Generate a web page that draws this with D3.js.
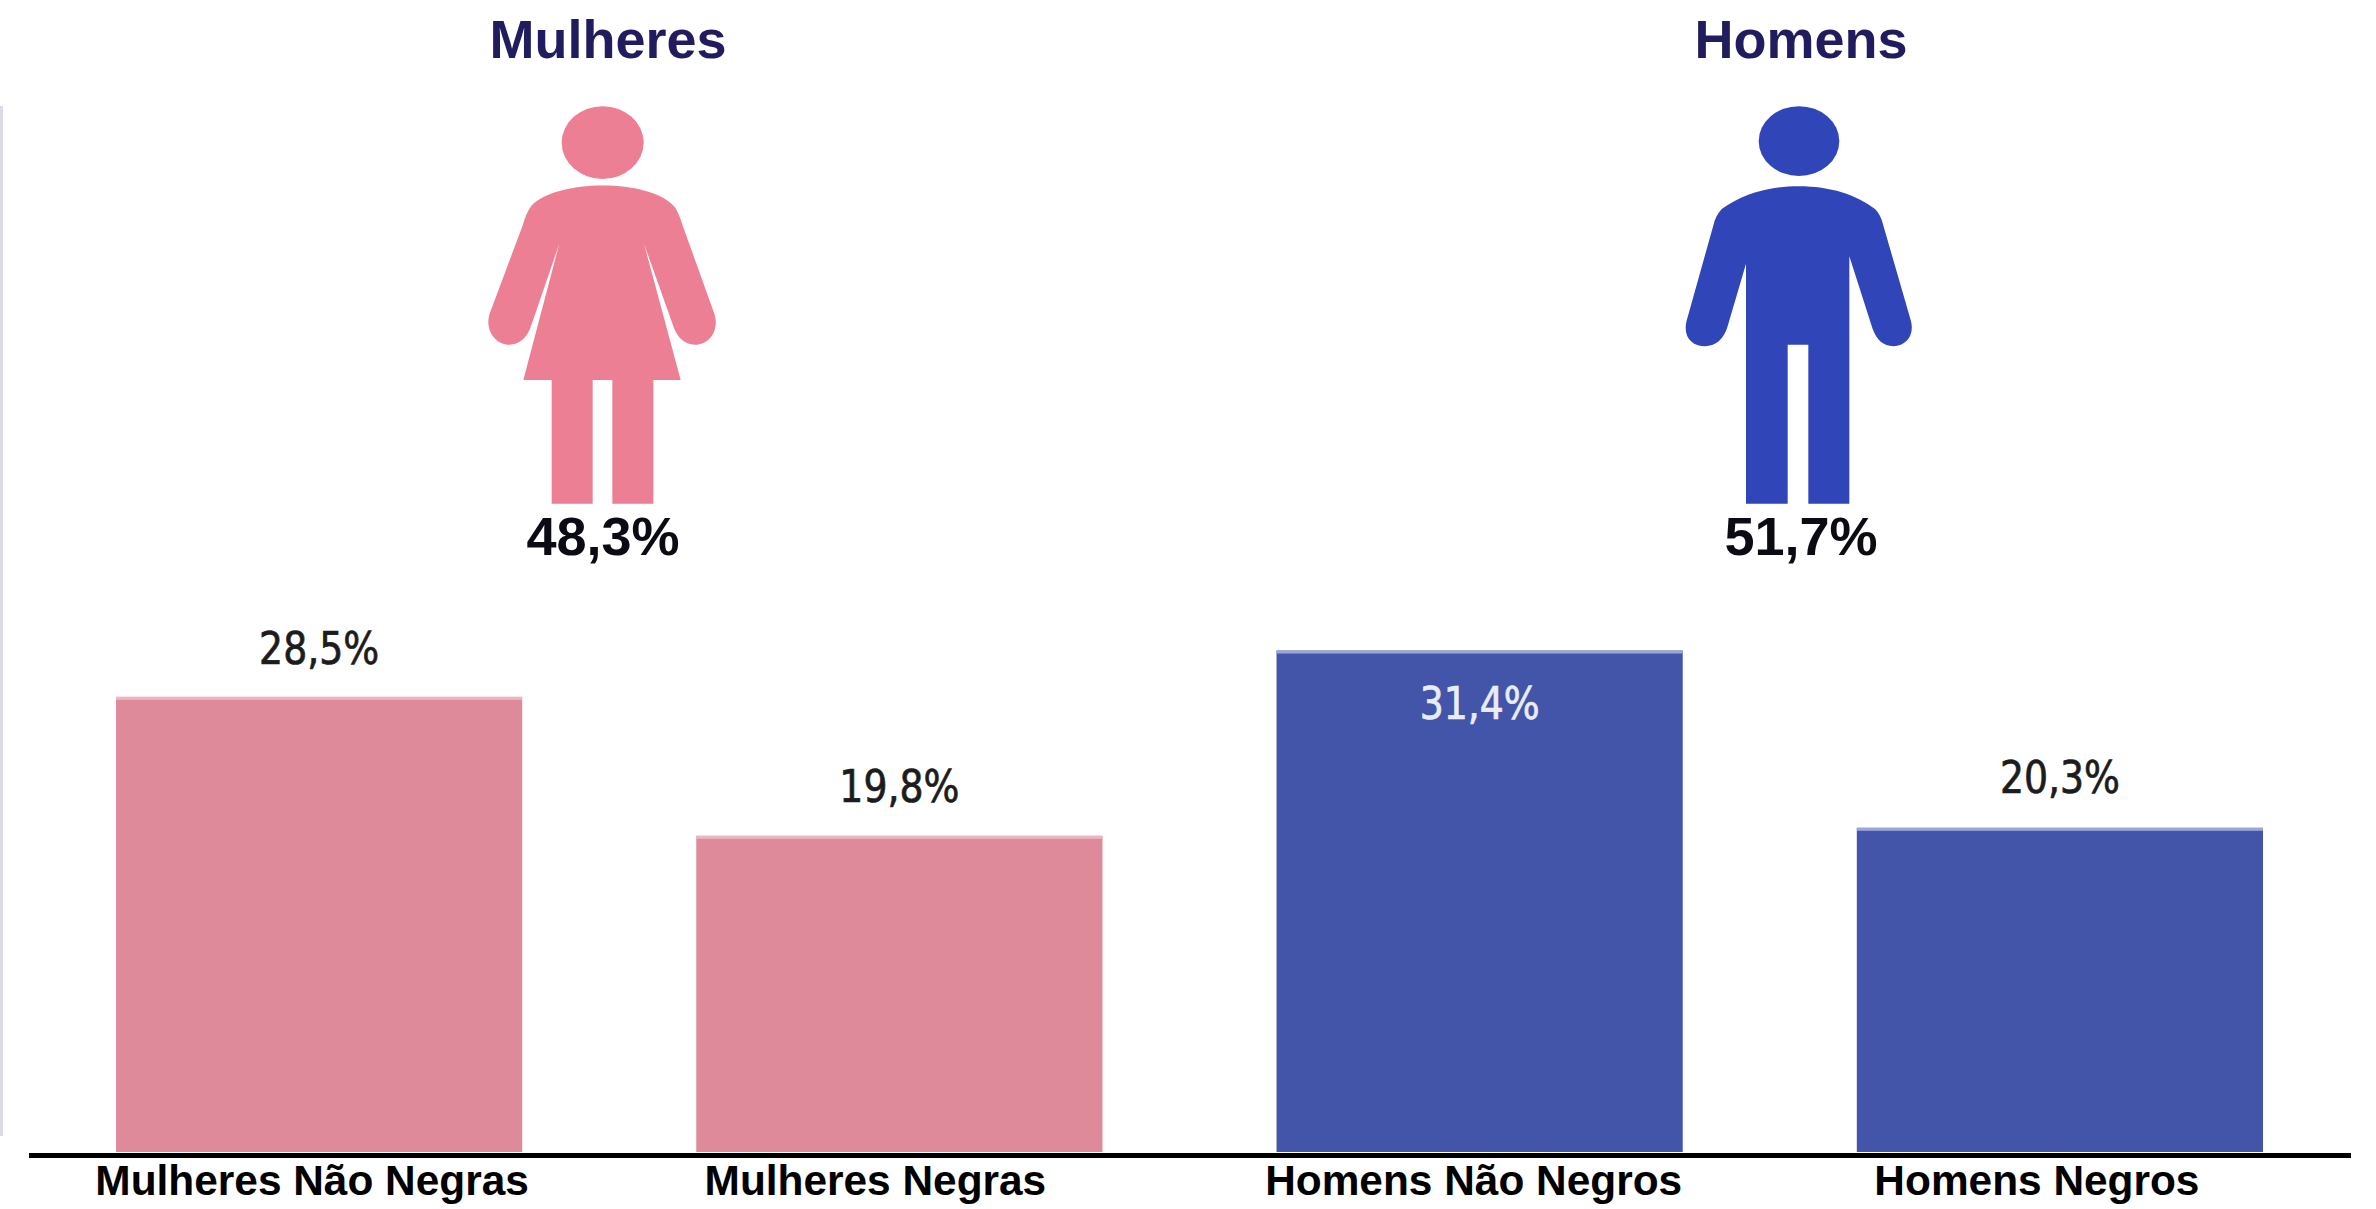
<!DOCTYPE html>
<html lang="pt">
<head>
<meta charset="utf-8">
<script src="https://cdn.jsdelivr.net/npm/d3@7"></script>
<style>
html,body{margin:0;padding:0;background:#fff;overflow:hidden}
svg{display:block}
</style>
</head>
<body>
<svg id="chart" width="2376" height="1209"></svg>
<script>
// --- data ---
const categories = ["Mulheres Não Negras", "Mulheres Negras", "Homens Não Negros", "Homens Negros"];
const values = [28.5, 19.8, 31.4, 20.3];
const genderNames = ["Mulheres", "Homens"];
const genderValues = [48.3, 51.7];

// --- styles and layout ---
const barColors = ["#DE8A9A", "#DE8A9A", "#4255A8", "#4255A8"];
const barEdgeColors = ["#EBB6C1", "#EBB6C1", "#9AA6D8", "#9AA6D8"];
const labelColors = ["#1c1c1c", "#1c1c1c", "#E9ECF6", "#1c1c1c"];
const labelOffsets = [-33, -34, 68, -35];
const tickShifts = [-7, -24, -6, -23];
const iconColors = ["#EC7F94", "#3046B8"];
const sansFont = "'Liberation Sans', Arial, sans-serif";
const valueFont = "'DejaVu Sans Condensed', 'DejaVu Sans', sans-serif";
const pct = v => d3.format(".1f")(v).replace(".", ",") + "%";

const svg = d3.select("#chart");
const baseY = 1152;

const x = d3.scaleBand().domain(categories).range([116, 2263]).paddingInner(0.3).paddingOuter(0);
const y = d3.scaleLinear().domain([0, 32]).range([baseY, baseY - 32 * 15.97]);

// faint left edge of the original crop
svg.append("rect").attr("x", 0).attr("y", 106).attr("width", 3).attr("height", 1030).attr("fill", "#DADBE6");

// bars
const rows = categories.map((c, i) => ({c, v: values[i], i}));
svg.append("g").selectAll("rect").data(rows).join("rect")
  .attr("x", d => x(d.c)).attr("y", d => y(d.v))
  .attr("width", x.bandwidth()).attr("height", d => baseY - y(d.v))
  .attr("fill", d => barColors[d.i]);
svg.append("g").selectAll("rect").data(rows).join("rect")
  .attr("x", d => x(d.c)).attr("y", d => y(d.v))
  .attr("width", x.bandwidth()).attr("height", 3)
  .attr("fill", d => barEdgeColors[d.i]);

// value labels
svg.append("g").selectAll("text").data(rows).join("text")
  .attr("x", d => x(d.c) + x.bandwidth() / 2)
  .attr("y", d => y(d.v) + labelOffsets[d.i])
  .attr("text-anchor", "middle")
  .attr("font-family", valueFont).attr("font-size", 44)
  .attr("textLength", 120).attr("lengthAdjust", "spacingAndGlyphs")
  .attr("fill", d => labelColors[d.i])
  .attr("stroke", d => labelColors[d.i]).attr("stroke-width", 0.7)
  .text(d => pct(d.v));

// axis
const axis = svg.append("g").attr("transform", `translate(0,${baseY})`)
  .call(d3.axisBottom(x).tickSize(0).tickPadding(0));
axis.select(".domain").remove();
axis.selectAll(".tick text")
  .attr("dx", (d, i) => tickShifts[i])
  .attr("y", 0).attr("dy", 43)
  .attr("font-family", sansFont).attr("font-size", 42.4).attr("font-weight", 700)
  .attr("fill", "#000");
svg.append("rect").attr("x", 29).attr("y", 1153).attr("width", 2322).attr("height", 5).attr("fill", "#000");

// pictograms (drawn in a 3x by 2.75x local grid)
const woman = "M488 510 C580 510 670 530 705 570 Q718 590 728 620 L822 860 C840 905 810 948 765 948 C735 948 715 930 703 905 L612 670 L722 1045 L640 1045 L640 1385 L517 1385 L517 1045 L458 1045 L458 1385 L335 1385 L335 1045 L250 1045 L358 670 L270 905 C258 930 238 948 208 948 C165 948 132 905 150 860 L248 620 Q258 585 275 565 C310 530 400 510 488 510 Z";
const man = "M477 512 C570 512 650 535 705 575 Q722 590 730 620 L812 880 C825 920 800 952 760 952 C730 952 710 935 698 905 L628 705 L628 1385 L505 1385 L505 948 L443 948 L443 1385 L318 1385 L318 725 L262 900 C250 935 225 952 195 952 C155 952 125 925 142 875 L220 620 Q226 595 245 575 C305 535 385 512 477 512 Z";
const icons = [
  {path: woman, ox: 440, cx: 488, cy: 392, rx: 123, ry: 100},
  {path: man, ox: 1640, cx: 477, cy: 388, rx: 121, ry: 96}
];
const iconGroups = svg.append("g").selectAll("g").data(icons).join("g")
  .attr("transform", d => `translate(${d.ox},0) scale(${1 / 3},${1 / 2.75})`)
  .attr("fill", (d, i) => iconColors[i]);
iconGroups.append("ellipse").attr("cx", d => d.cx).attr("cy", d => d.cy).attr("rx", d => d.rx).attr("ry", d => d.ry);
iconGroups.append("path").attr("d", d => d.path);

// group titles and totals
const titleX = [608, 1801];
const totalX = [603, 1801];
svg.append("g").selectAll("text").data(genderNames).join("text")
  .attr("x", (d, i) => titleX[i]).attr("y", 58)
  .attr("text-anchor", "middle").attr("font-family", sansFont).attr("font-weight", 700)
  .attr("font-size", 54).attr("fill", "#211C5E")
  .text(d => d);
svg.append("g").selectAll("text").data(genderValues).join("text")
  .attr("x", (d, i) => totalX[i]).attr("y", 555)
  .attr("text-anchor", "middle").attr("font-family", sansFont).attr("font-weight", 700)
  .attr("font-size", 54).attr("fill", "#0b0b14")
  .text(d => pct(d));
</script>
</body>
</html>
